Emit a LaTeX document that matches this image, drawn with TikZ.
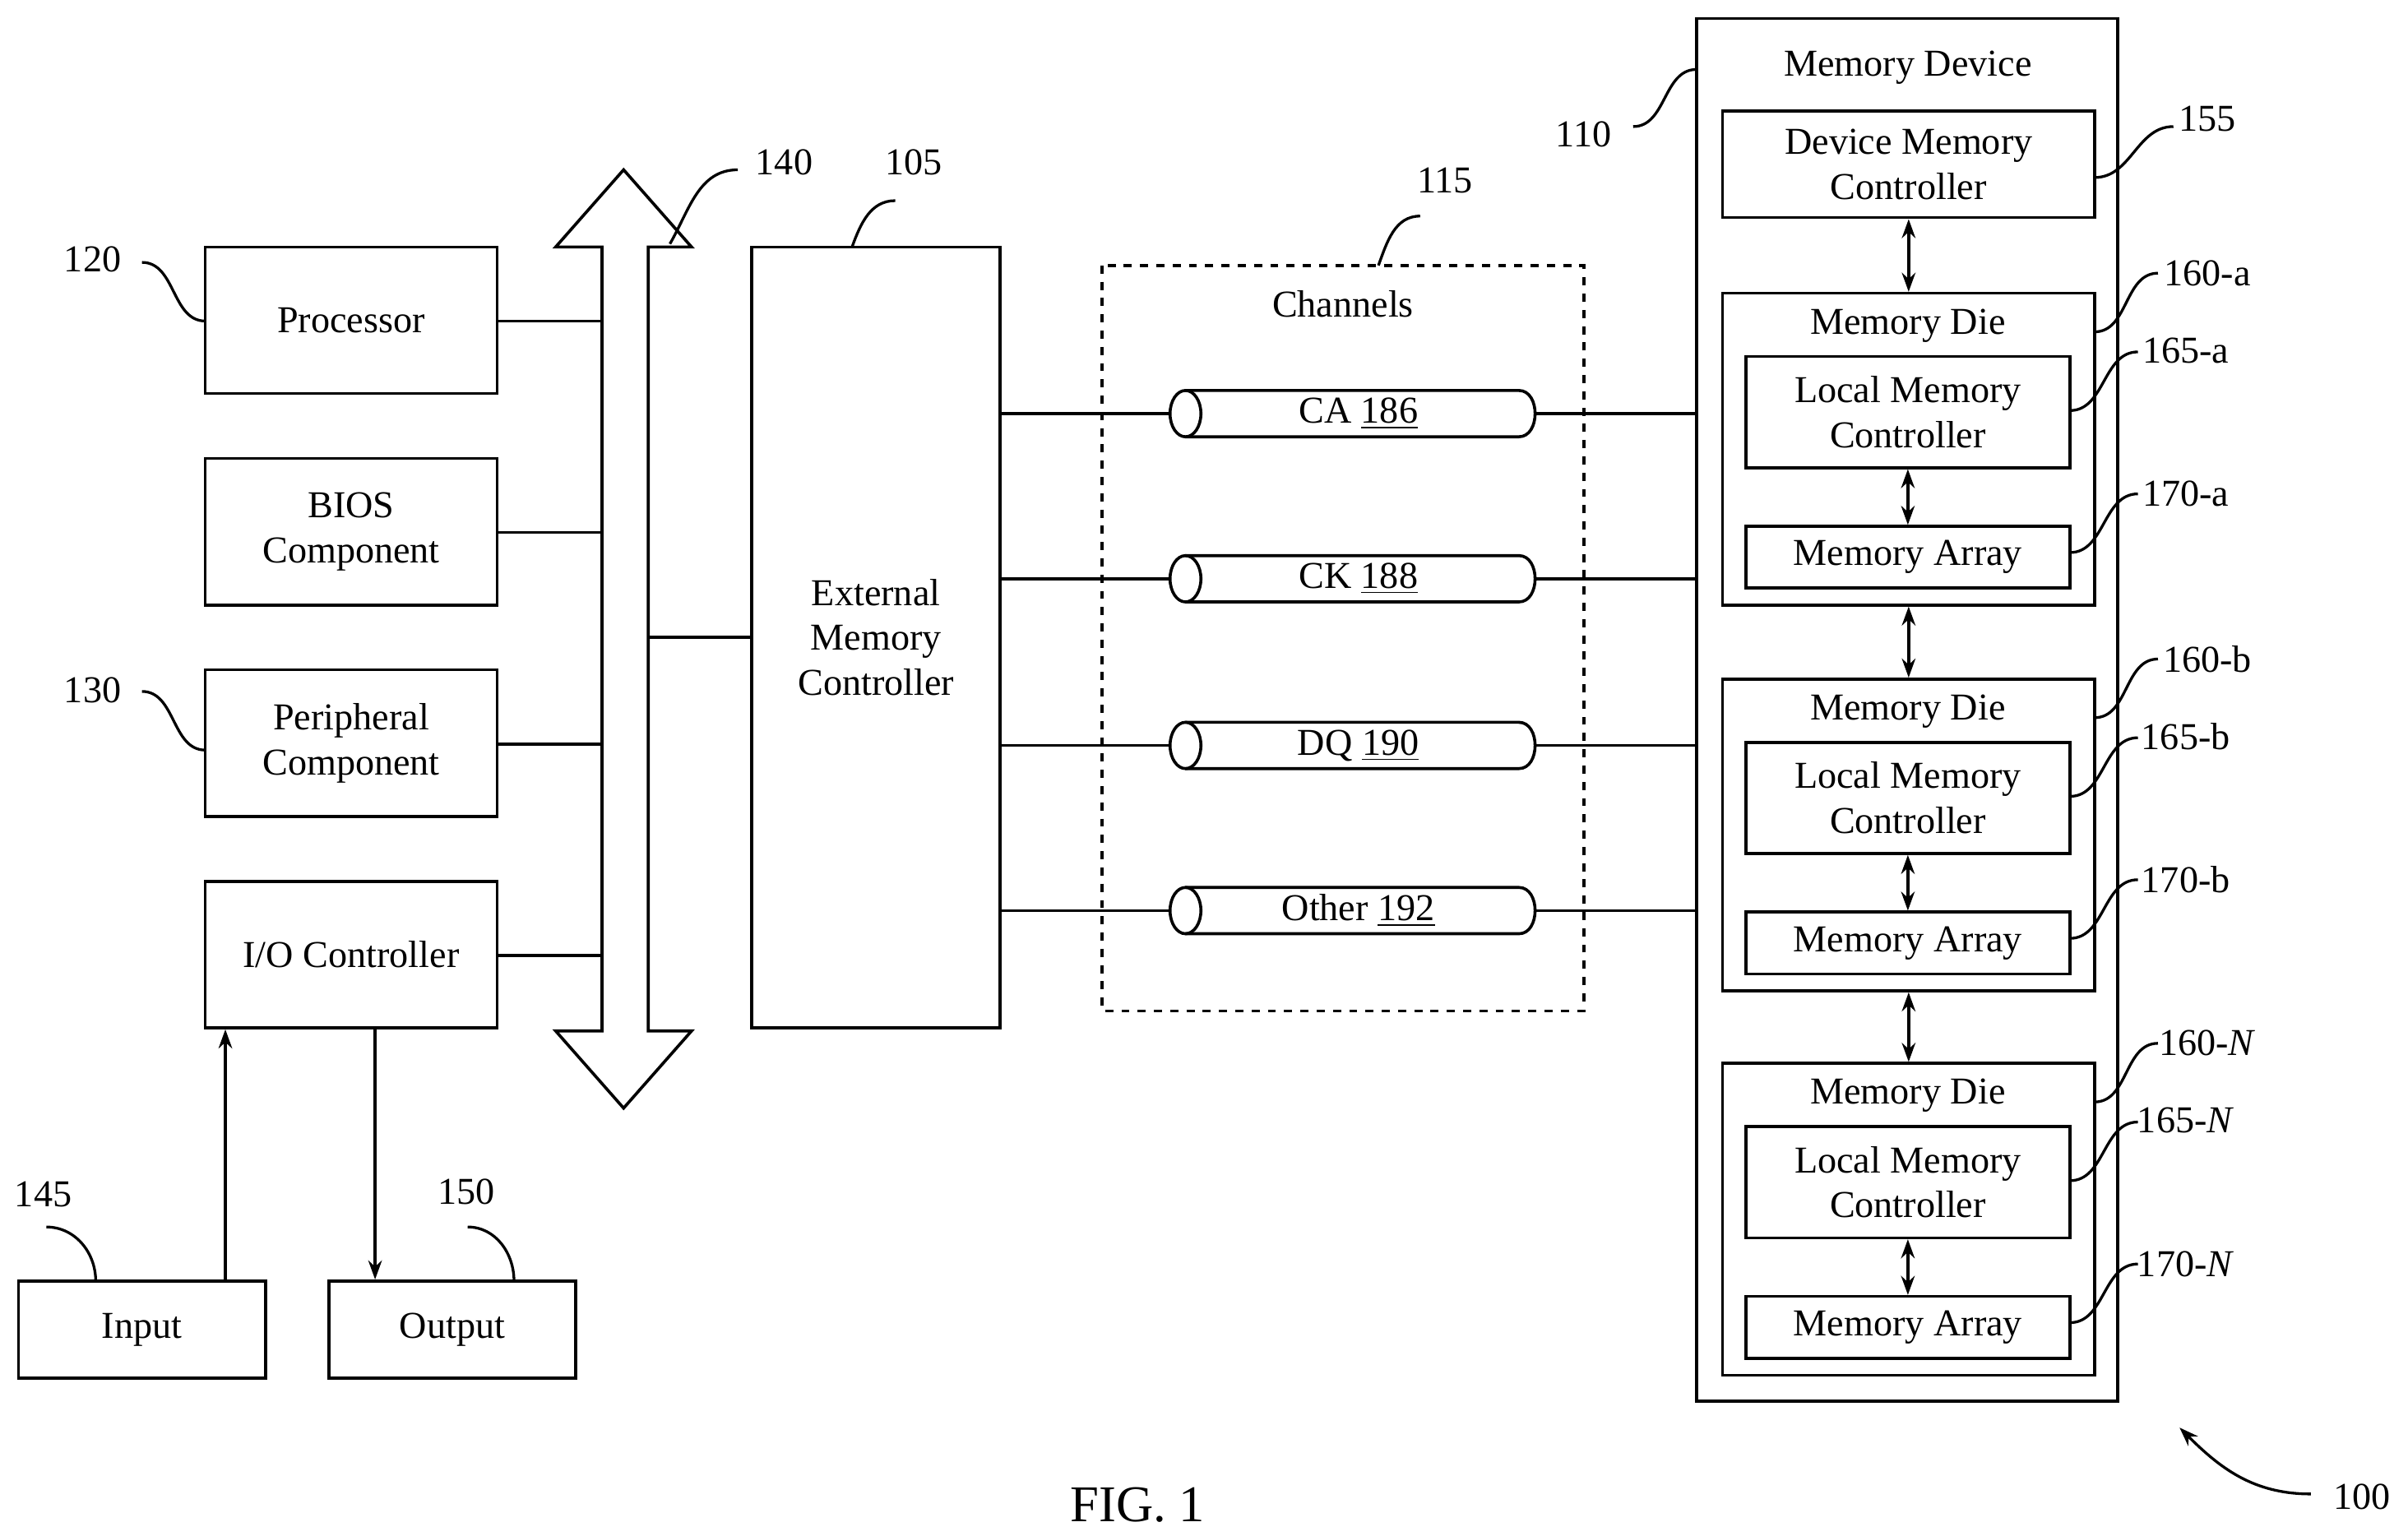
\documentclass[tikz,border=0pt]{standalone}
\usepackage{fontspec}
\setmainfont{Liberation Serif}
\usetikzlibrary{arrows.meta}
\begin{document}
\begin{tikzpicture}[x=0.02cm,y=-0.02cm,
  line width=1.1pt,
  every node/.style={font=\fontsize{14}{16.5}\selectfont},
  box/.style={draw,align=center,inner sep=0pt},
  lbl/.style={inner sep=1pt},
  arr/.style={-{Stealth[length=7pt,width=5pt]}},
  darr/.style={{Stealth[length=7pt,width=5pt]}-{Stealth[length=7pt,width=5pt]}},
  lead/.style={line width=1pt}]
\useasboundingbox (0,0) rectangle (1560,995);
\newcommand{\bx}[6]{\node[box,minimum width={((#4)-(#2))*0.02cm},minimum height={((#5)-(#3))*0.02cm}] (#1) at ({((#2)+(#4))/2},{((#3)+(#5))/2}) {#6};}
\newcommand{\lead}[5]{\node[lbl] at (#1) {#2}; \draw[lead] (#3) to[out=0,in=180] (#4);}
% left boxes
\bx{proc}{133}{160}{322}{255}{Processor}
\bx{bios}{133}{297}{322}{392}{BIOS\\Component}
\bx{peri}{133}{434}{322}{529}{Peripheral\\Component}
\bx{io}{133}{571}{322}{666}{I/O Controller}
\bx{in}{12}{830}{172}{893}{Input}
\bx{out}{213}{830}{373}{893}{Output}
% bus
\draw (390,160) -- (360,160) -- (404,110) -- (448,160) -- (420,160) -- (420,668) -- (448,668) -- (404,718) -- (360,668) -- (390,668) -- cycle;
\coordinate (b1) at (390,208); \coordinate (b2) at (390,345);
\coordinate (b3) at (390,482); \coordinate (b4) at (390,619);
\coordinate (b5) at (420,413);
\draw (proc.east|-b1) -- (b1);
\draw (bios.east|-b2) -- (b2);
\draw (peri.east|-b3) -- (b3);
\draw (io.east|-b4) -- (b4);
% external memory controller
\bx{emc}{487}{160}{648}{666}{External\\Memory\\Controller}
\draw (b5) -- (emc.west|-b5);
% io arrows
\draw[arr] (in.north-|146,0) -- (io.south-|146,0);
\draw[arr] (io.south-|243,0) -- (out.north-|243,0);
% channels
\draw[dashed] (714,172) rectangle (1026,655);
\node at (870,197) {Channels};
\bx{md}{1099}{12}{1372}{908}{}
\node at (1236,44) {Memory Device};
\bx{dmc}{1116}{72}{1357}{141}{Device Memory\\Controller}
\foreach \n/\y/\t in {ca/268/{CA \underline{186}},ck/375/{CK \underline{188}},dq/483/{DQ \underline{190}},ot/590/{Other \underline{192}}}{
  \draw (768,\y-15) -- (984,\y-15) .. controls (998,\y-15) and (998,\y+15) .. (984,\y+15) -- (768,\y+15);
  \draw (768,\y) ellipse[x radius=10,y radius=15];
  \node (\n) at (880,\y) {\t};
  \coordinate (\n L) at (758,\y); \coordinate (\n R) at (995,\y);
  \draw (emc.east|-\n L) -- (\n L);
  \draw (\n R) -- (md.west|-\n R);
}
% dies
\foreach \s/\o/\lab in {a/0/a,b/250/b,N/499/\textit{N}}{
  \bx{die\s}{1116}{190+\o}{1357}{392+\o}{}
  \node at (1236,211+\o) {Memory Die};
  \bx{lmc\s}{1131}{231+\o}{1341}{303+\o}{Local Memory\\Controller}
  \bx{ma\s}{1131}{341+\o}{1341}{381+\o}{Memory Array}
  \draw[darr] (lmc\s) -- (ma\s);
  \node[lbl] at (1430,177+\o) {160-\lab};
  \draw[lead] (1357,215+\o) to[out=0,in=180] (1398,177+\o);
  \node[lbl] at (1416,227+\o) {165-\lab};
  \draw[lead] (1341,266+\o) to[out=0,in=180] (1385,228+\o);
  \node[lbl] at (1416,320+\o) {170-\lab};
  \draw[lead] (1341,358+\o) to[out=0,in=180] (1385,320+\o);
}
\draw[darr] (dmc) -- (diea);
\draw[darr] (diea) -- (dieb);
\draw[darr] (dieb) -- (dieN);
% labels
\lead{60,168}{120}{92,170}{133,208}
\lead{60,307}{125}{92,308}{133,345}
\lead{60,447}{130}{92,448}{133,486}
\lead{60,588}{135}{92,590}{133,628}
\node[lbl] at (28,774) {145}; \draw[lead] (30,795) to[out=0,in=90] (62,830);
\node[lbl] at (302,772) {150}; \draw[lead] (303,795) to[out=0,in=90] (333,830);
\node[lbl] at (508,105) {140}; \draw[lead] (478,110) to[out=180,in=60] (434,158);
\node[lbl] at (592,105) {105}; \draw[lead] (580,130) to[out=180,in=70] (552,160);
\node[lbl] at (936,117) {115}; \draw[lead] (920,140) to[out=180,in=70] (893,172);
\node[lbl] at (1026,87) {110}; \draw[lead] (1058,82) to[out=0,in=180] (1099,45);
\node[lbl] at (1430,77) {155}; \draw[lead] (1357,115) to[out=0,in=180] (1408,82);
\node[lbl] at (1530,970) {100};
\draw[lead,arr] (1497,968) to[out=180,in=-45] (1412,925);
\node[font=\fontsize{19}{22}\selectfont] at (737,975) {FIG. 1};
\end{tikzpicture}
\end{document}
